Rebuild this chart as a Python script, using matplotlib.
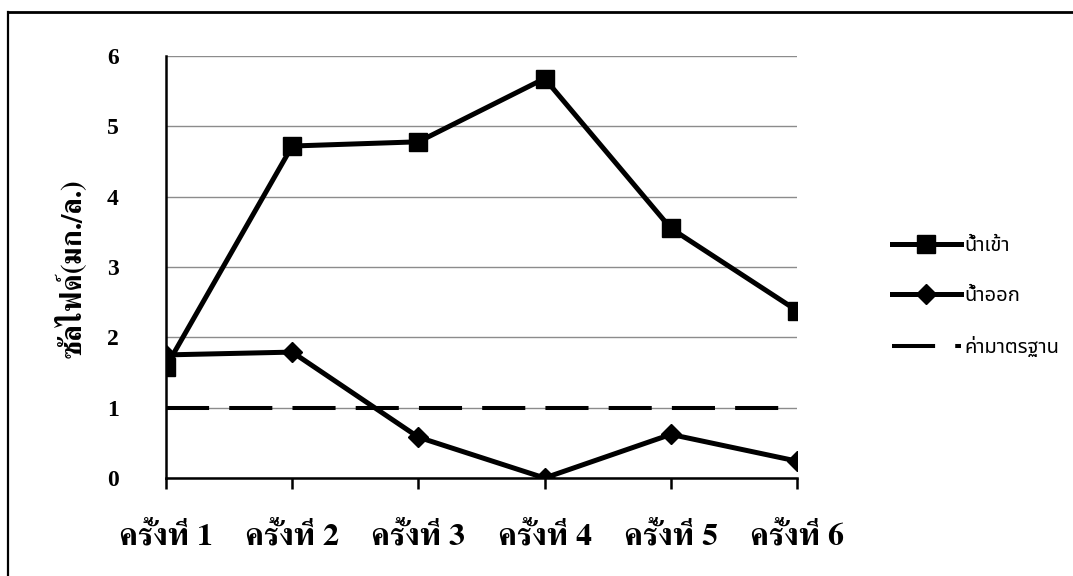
import matplotlib
matplotlib.use("Agg")
import matplotlib.pyplot as plt
from matplotlib.lines import Line2D

# Sulfide concentration per sampling round (mg/L)
rounds = ["ครั้งที่ 1", "ครั้งที่ 2", "ครั้งที่ 3", "ครั้งที่ 4", "ครั้งที่ 5", "ครั้งที่ 6"]
inflow = [1.58, 4.72, 4.78, 5.68, 3.55, 2.38]
outflow = [1.75, 1.79, 0.58, 0.00, 0.62, 0.24]
standard = [1.0] * len(rounds)
yticks = [0, 1, 2, 3, 4, 5, 6]

series_labels = ["น้ำเข้า", "น้ำออก", "ค่ามาตรฐาน"]
ylabel = "ซัลไฟด์(มก./ล.)"

thai_serif = ["FreeSerif", "DejaVu Serif"]
thai_sans = ["Noto Sans Thai", "DejaVu Sans"]

W, H = 1073, 576
fig = plt.figure(figsize=(W / 100, H / 100), dpi=100)
ax = fig.add_axes([166 / W, 1 - 478 / H, 631 / W, 422 / H])

x = list(range(len(rounds)))
l_in, = ax.plot(x, inflow, color="black", lw=3.6, marker="s", ms=13,
                mec="black", mfc="black", zorder=4)
l_out, = ax.plot(x, outflow, color="black", lw=3.6, marker="D", ms=10.5,
                 mec="black", mfc="black", zorder=4)
l_std, = ax.plot(x, standard, color="black", lw=2.9,
                 linestyle=(0, (10.7, 5.0)), zorder=3)

ax.set_xlim(0, len(rounds) - 1)
ax.set_ylim(0, 6)
ax.set_yticks(yticks)
ax.set_xticks(x)
ax.set_xticklabels(rounds, family=thai_serif, fontweight="bold", fontsize=23)
ax.set_yticklabels([str(v) for v in yticks], family="Liberation Serif",
                   fontweight="bold", fontsize=17)

ax.grid(axis="y", color="#8c8c8c", lw=1.0, zorder=1)
ax.grid(axis="x", visible=False)
for side in ("top", "right"):
    ax.spines[side].set_visible(False)
ax.spines["left"].set_linewidth(1.8)
ax.spines["bottom"].set_linewidth(1.8)
ax.tick_params(axis="y", length=0, pad=34)
ax.tick_params(axis="x", length=8, width=1.8, pad=24, direction="out")

fig.text(71 / W, 1 - 268 / H, ylabel, rotation=90, ha="center",
         va="center", family=thai_serif, fontweight="bold", fontsize=21)

# Outer border: top and left edges of the chart frame
fig.add_artist(Line2D([8 / W, 1.0], [1 - 12 / H, 1 - 12 / H],
                      transform=fig.transFigure, color="black", lw=2.0))
fig.add_artist(Line2D([8 / W, 8 / W], [0.0, 1 - 12 / H],
                      transform=fig.transFigure, color="black", lw=1.6))

fig.legend([l_in, l_out, l_std], series_labels, loc="center left",
           bbox_to_anchor=(884 / W, 1 - 297 / H), frameon=False,
           prop={"family": thai_sans, "size": 14.5},
           handlelength=3.4, handletextpad=0.2, labelspacing=1.5,
           borderaxespad=0)

fig.savefig("out.png", dpi=100)
